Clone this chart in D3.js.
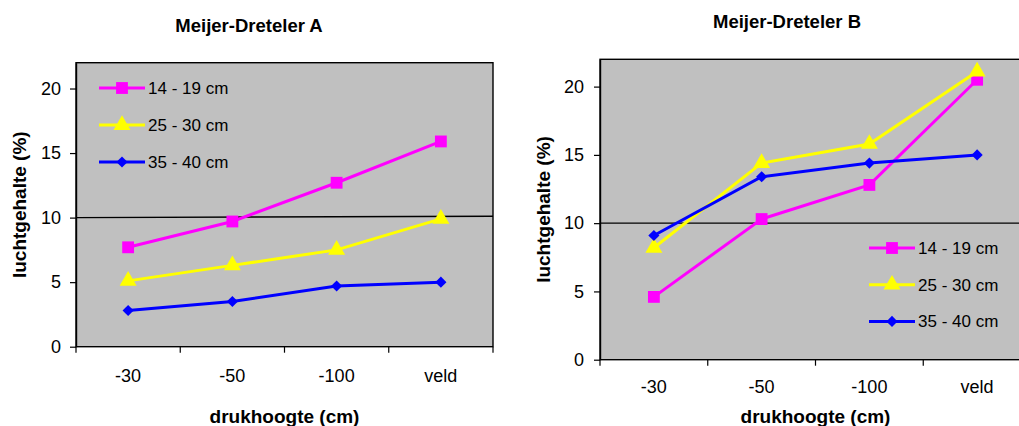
<!DOCTYPE html>
<html>
<head>
  <meta charset="utf-8">
  <script src="https://d3js.org/d3.v7.min.js"></script>
  <style>
    body { margin: 0; background: #fff; }
    text { font-family: "Liberation Sans", Arial, sans-serif; fill: #000; }
  </style>
</head>
<body>
<script>
  // categories and series
  var categories = ["-30", "-50", "-100", "veld"];
  var seriesNames = ["14 - 19 cm", "25 - 30 cm", "35 - 40 cm"];
  var yTicks = [0, 5, 10, 15, 20];

  var valuesA_14_19 = [7.7, 9.7, 12.7, 15.9];
  var valuesA_25_30 = [5.1, 6.3, 7.5, 9.9];
  var valuesA_35_40 = [2.8, 3.5, 4.7, 5.0];

  var valuesB_14_19 = [4.6, 10.3, 12.8, 20.5];
  var valuesB_25_30 = [8.2, 14.4, 15.8, 21.1];
  var valuesB_35_40 = [9.1, 13.4, 14.4, 15.0];

  // the black 10% line (start, end)
  var refLineA = [10, 10.1];
  var refLineB = [10, 10];

  var colors = ["#ff00ff", "#ffff00", "#0000ff"];
  // square, triangle, diamond (a square turned 45 degrees)
  var symbols = [d3.symbolSquare, d3.symbolTriangle, d3.symbolSquare];
  var symbolSizes = [140, 125, 62];
  var symbolTurn = [0, 0, 45];

  var svg = d3.select("body").append("svg")
      .attr("width", 1019)
      .attr("height", 426);

  function drawChart(cfg) {
    var g = svg.append("g");

    var x = d3.scaleBand().domain(categories).range([cfg.left, cfg.right]).padding(0);
    var y = d3.scaleLinear().domain([0, 22]).range([cfg.bottom, cfg.top]);
    var cx = function(c) { return x(c) + x.bandwidth() / 2; };

    // plot area
    g.append("rect")
      .attr("x", cfg.left).attr("y", cfg.top)
      .attr("width", cfg.right - cfg.left).attr("height", cfg.bottom - cfg.top)
      .attr("fill", "#c0c0c0")
      .attr("stroke", "#000").attr("stroke-width", 1.4);

    // y axis
    var yAxis = g.append("g")
      .attr("transform", "translate(" + cfg.left + ",0)")
      .call(d3.axisLeft(y).tickValues(yTicks).tickSize(6).tickPadding(cfg.yPad).tickSizeOuter(0));
    yAxis.select(".domain").attr("stroke-width", 1.4);
    yAxis.selectAll(".tick line").attr("stroke-width", 1.2);
    yAxis.selectAll("text").style("font-size", "18px").attr("font-family", null);

    // x axis: ticks on band edges, labels at band centres
    var edges = categories.map(function(c) { return x(c); }).concat([cfg.right]);
    g.selectAll(".xtick").data(edges).enter().append("line")
      .attr("x1", function(d) { return d; }).attr("x2", function(d) { return d; })
      .attr("y1", cfg.bottom).attr("y2", cfg.bottom + 6)
      .attr("stroke", "#000").attr("stroke-width", 1.2);
    g.selectAll(".xlab").data(categories).enter().append("text")
      .attr("x", cx).attr("y", cfg.xLabelY)
      .attr("text-anchor", "middle")
      .style("font-size", "18px")
      .text(function(d) { return d; });

    // 10% line
    g.append("line")
      .attr("x1", cfg.left).attr("x2", cfg.right)
      .attr("y1", y(cfg.ref[0])).attr("y2", y(cfg.ref[1]))
      .attr("stroke", "#000").attr("stroke-width", 1.4);

    // series
    var line = d3.line().x(function(d, i) { return cx(categories[i]); }).y(function(d) { return y(d); });
    cfg.series.forEach(function(vals, s) {
      g.append("path").datum(vals)
        .attr("d", line)
        .attr("fill", "none")
        .attr("stroke", colors[s]).attr("stroke-width", 3);
      g.selectAll(".m" + s).data(vals).enter().append("path")
        .attr("d", d3.symbol().type(symbols[s]).size(symbolSizes[s]))
        .attr("transform", function(d, i) {
          return "translate(" + cx(categories[i]) + "," + y(d) + ") rotate(" + symbolTurn[s] + ")";
        })
        .attr("fill", colors[s]);
    });

    // legend
    seriesNames.forEach(function(name, s) {
      var ly = cfg.legY + s * cfg.legStep;
      g.append("line")
        .attr("x1", cfg.legX).attr("x2", cfg.legX + 46)
        .attr("y1", ly).attr("y2", ly)
        .attr("stroke", colors[s]).attr("stroke-width", 3);
      g.append("path")
        .attr("d", d3.symbol().type(symbols[s]).size(symbolSizes[s]))
        .attr("transform", "translate(" + (cfg.legX + 23) + "," + ly + ") rotate(" + symbolTurn[s] + ")")
        .attr("fill", colors[s]);
      g.append("text")
        .attr("x", cfg.legX + 49).attr("y", ly + 6)
        .style("font-size", "17px")
        .text(name);
    });

    // titles
    g.append("text")
      .attr("x", cfg.titleX).attr("y", cfg.titleY)
      .attr("text-anchor", "middle")
      .style("font-size", "18.5px").style("font-weight", "bold")
      .text(cfg.title);
    g.append("text")
      .attr("x", (cfg.left + cfg.right) / 2).attr("y", 423)
      .attr("text-anchor", "middle")
      .style("font-size", "19px").style("font-weight", "bold")
      .text("drukhoogte (cm)");
    g.append("text")
      .attr("transform", "translate(" + cfg.yTitleX + "," + (cfg.top + cfg.bottom) / 2 + ") rotate(-90)")
      .attr("text-anchor", "middle")
      .style("font-size", "19px").style("font-weight", "bold")
      .text("luchtgehalte (%)");
  }

  drawChart({
    title: "Meijer-Dreteler A",
    left: 76, right: 493, top: 62.7, bottom: 346.7,
    yPad: 9, xLabelY: 381.5, ref: refLineA,
    series: [valuesA_14_19, valuesA_25_30, valuesA_35_40],
    legX: 99, legY: 88, legStep: 37,
    titleX: 249, titleY: 31.5, yTitleX: 26
  });

  drawChart({
    title: "Meijer-Dreteler B",
    left: 600, right: 1031, top: 59.3, bottom: 359.7,
    yPad: 10, xLabelY: 392.5, ref: refLineB,
    series: [valuesB_14_19, valuesB_25_30, valuesB_35_40],
    legX: 869, legY: 248, legStep: 36.7,
    titleX: 787, titleY: 28.3, yTitleX: 550
  });
</script>
</body>
</html>
